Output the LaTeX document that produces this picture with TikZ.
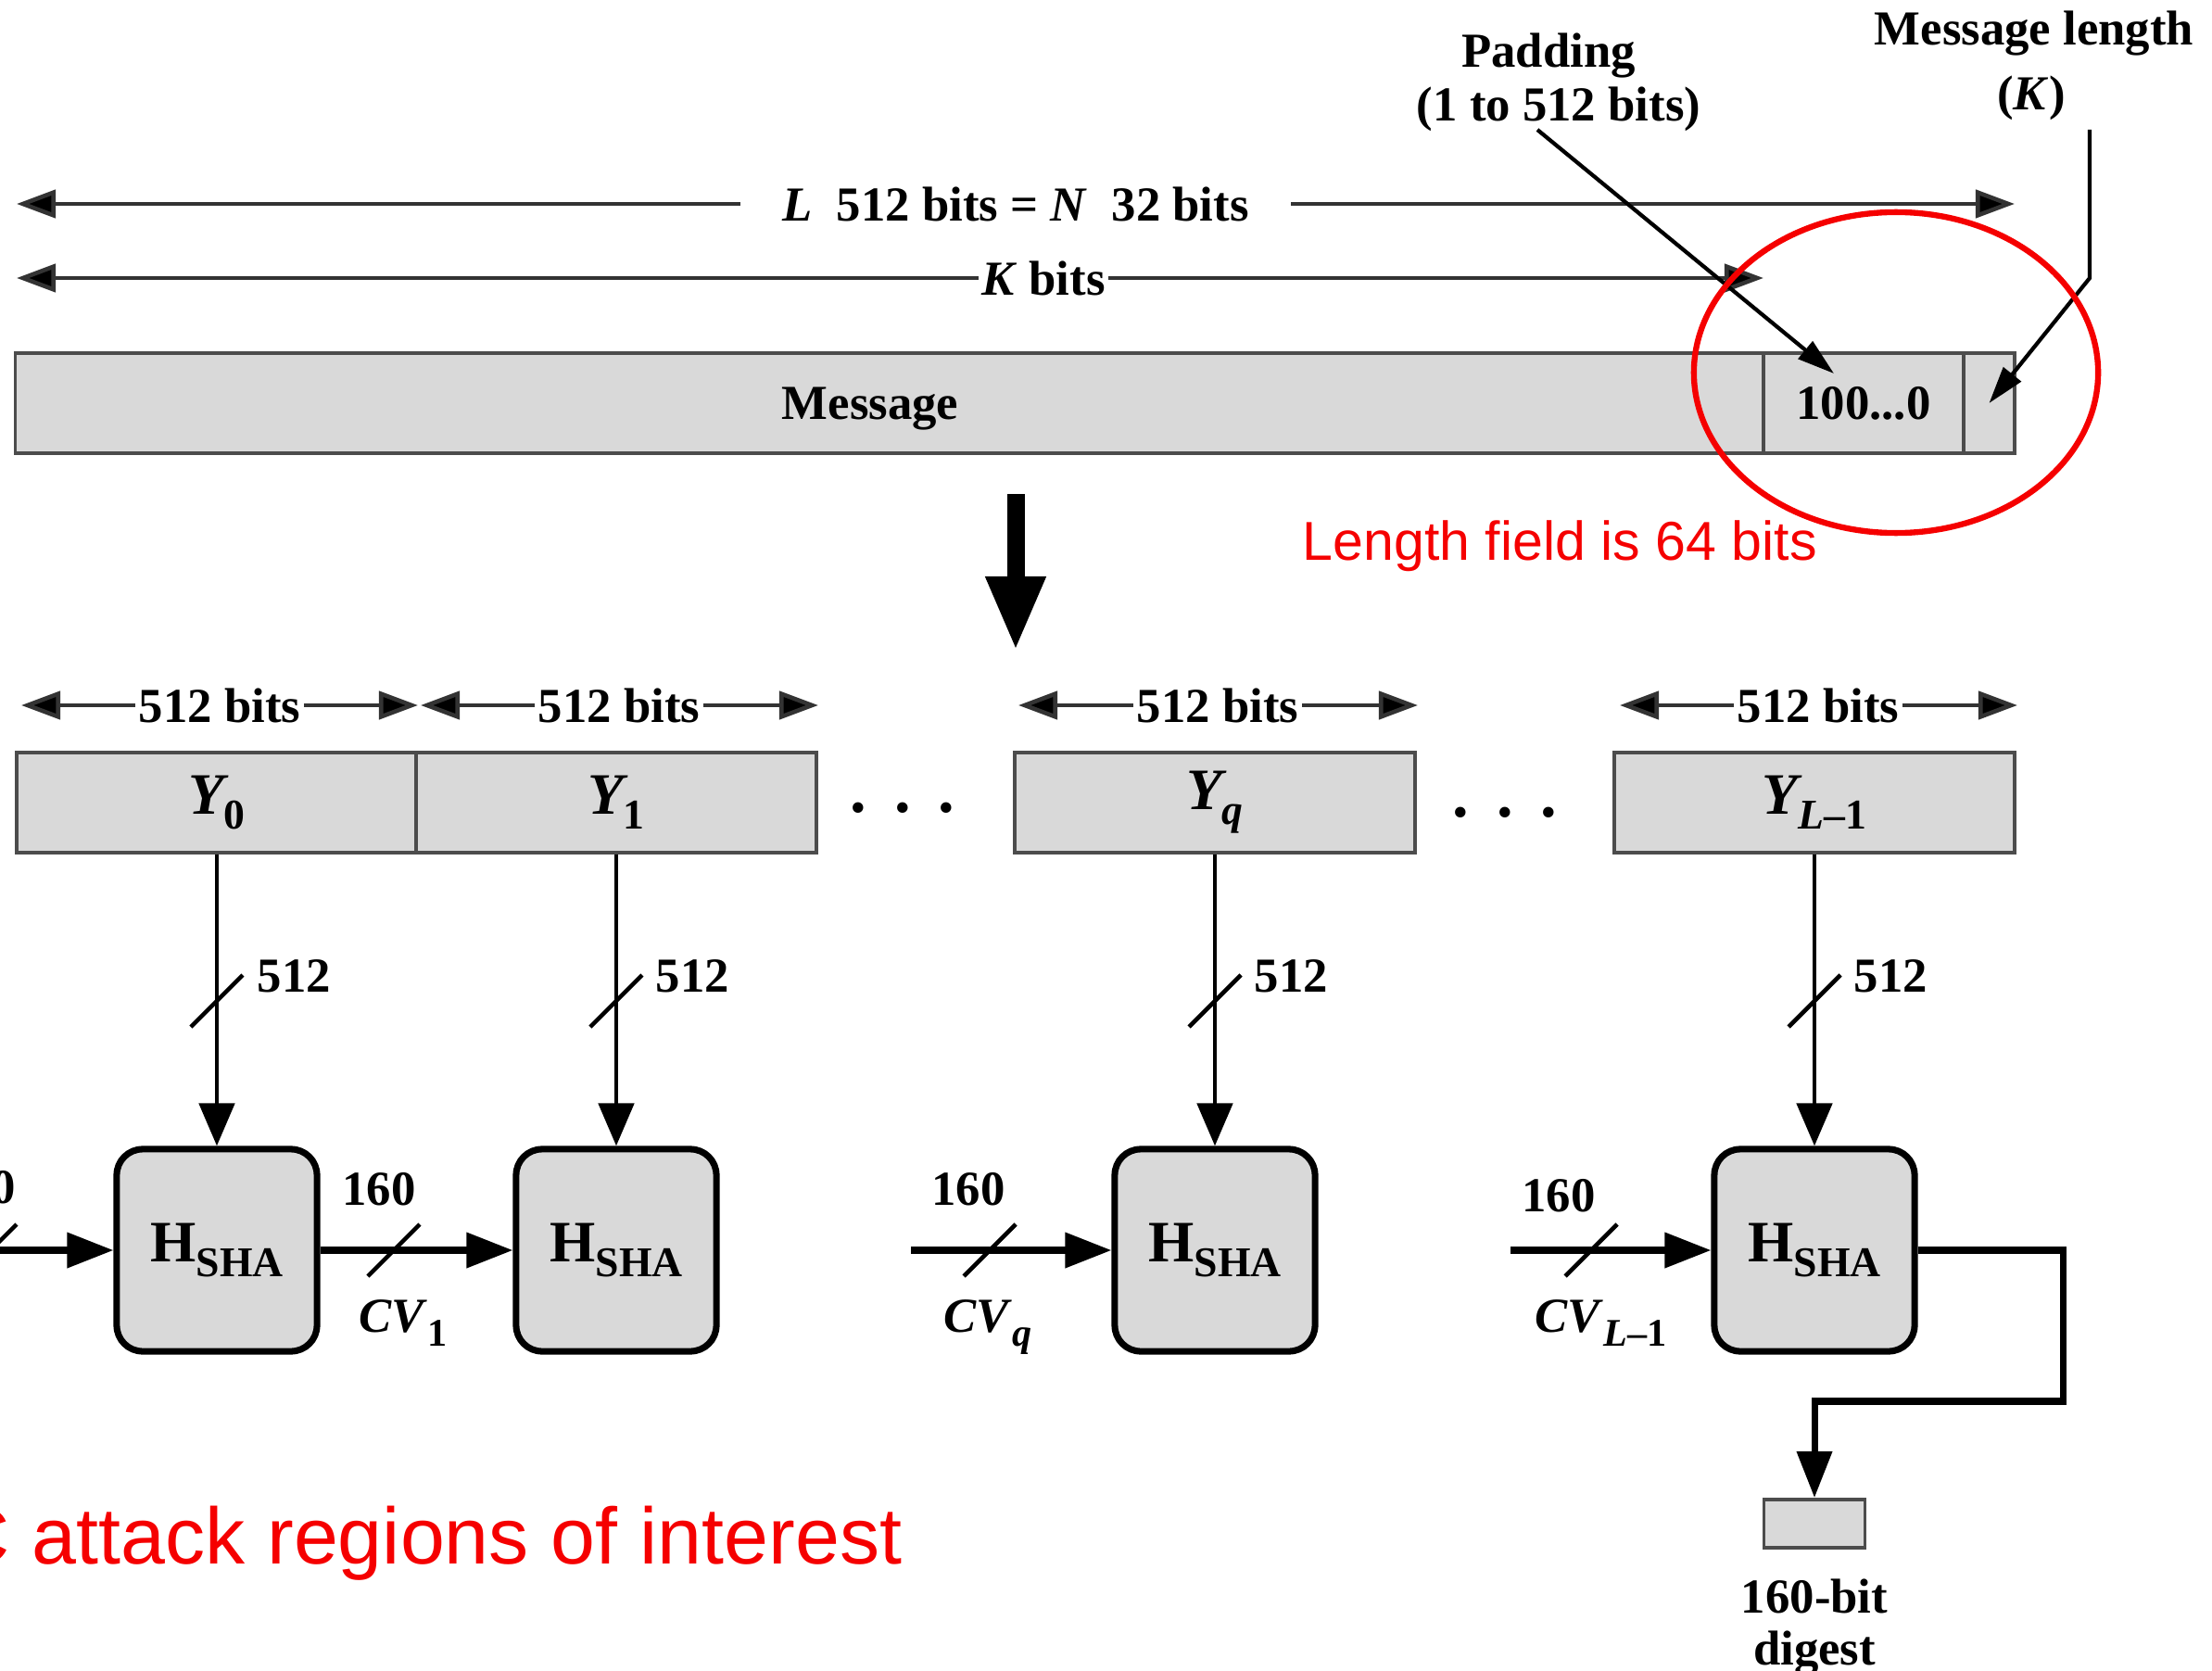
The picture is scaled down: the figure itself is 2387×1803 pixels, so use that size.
\documentclass[tikz,border=0pt]{standalone}
\usepackage{fontspec}
\setmainfont{Liberation Serif}
\newfontfamily\notefont{Liberation Sans}
\usetikzlibrary{arrows.meta}
\usetikzlibrary{positioning}

\definecolor{cellgray}{RGB}{217,217,217}
\definecolor{notered}{RGB}{245,0,0}

\newcommand{\blocklab}[2]{{\fontsize{18}{18}\selectfont\itshape #1}\raisebox{-4.5pt}{\fontsize{13}{13}\selectfont #2}}
\newcommand{\cvlab}[1]{\textit{CV}\raisebox{-4.5pt}{\fontsize{12}{12}\selectfont #1}}
\newcommand{\hsha}{{\fontsize{18}{18}\selectfont H}\raisebox{-4.5pt}{\fontsize{13}{13}\selectfont SHA}}

\tikzset{
  lbl/.style={font=\fontsize{15}{16}\selectfont\bfseries, inner sep=0pt},
  cell/.style={draw=black!70, line width=1.1pt, fill=cellgray, minimum height=1.08cm,
    inner sep=0pt, font=\fontsize{15}{16}\selectfont\bfseries},
  hbox/.style={draw, line width=2pt, fill=cellgray, rounded corners=0.28cm,
    minimum width=2.16cm, minimum height=2.18cm, inner sep=0pt, font=\bfseries},
  spanline/.style={draw=black!80, line width=1.3pt, >={Triangle[length=0.42cm,width=0.3cm,fill=black]}},
  callout/.style={draw=black, line width=1.2pt, ->, >={Triangle[length=0.4cm,width=0.24cm]}},
  feed/.style={line width=1.4pt, ->, >={Triangle[length=0.46cm,width=0.38cm]}},
  chain/.style={line width=2pt, ->, >={Triangle[length=0.5cm,width=0.37cm]}},
  note/.style={text=notered, inner sep=0pt},
  busmark/.pic={\draw[-, line width=1.3pt] (-28,28) -- (28,-28);}
}

\begin{document}
\begin{tikzpicture}[x=0.01cm,y=-0.01cm]
  \useasboundingbox (0,0) rectangle (2387,1803);

  \node[cell, minimum width=18.86cm] (msg) at (960,435) {};
  \node[lbl] (msglab) at (939,441) {Message};
  \node[cell, minimum width=2.16cm] (pad) at (2011,435) {100...0};
  \node[cell, minimum width=0.55cm] (len) at (2146.5,435) {};

  \node[lbl, anchor=base] (padA) at (1671,73) {Padding};
  \node[lbl, anchor=base] (padB) at (1682,131) {(1 to 512 bits)};
  \node[lbl, anchor=base] (mlA) at (2195,49) {Message length};
  \node[lbl, anchor=base] (mlB) at (2192,119) {(\textit{K})};

  \coordinate (Lleft) at (18,220);
  \coordinate (Lright) at (2174,220);
  \node[lbl, inner xsep=0.45cm] (Llab) at (1096,220) {\textit{L}\enspace 512 bits = \textit{N}\enspace 32 bits};
  \draw[spanline, <-] (Lleft) -- (Llab.west);
  \draw[spanline, ->] (Llab.east) -- (Lright);

  \coordinate (Kleft) at (18,300);
  \coordinate (Kright) at (1903,300);
  \draw[spanline, <->] (Kleft) -- (Kright);
  \node[lbl, fill=white, inner xsep=1pt] (Klab) at (1126,300) {\textit{K} bits};

  \coordinate (padtail) at (1659,140);
  \coordinate (padhead) at (1979,403);
  \draw[callout] (padtail) -- (padhead);
  \coordinate (lentail) at (2255,140);
  \coordinate (lenbend) at (2255,300);
  \draw[callout] (lentail) -- (lenbend) -- (len.center);

  \draw[notered, line width=1.8pt] (2046,402) ellipse [x radius=2.18cm, y radius=1.73cm];
  \node[note, font=\notefont\fontsize{16.8}{18}\selectfont, anchor=base west] (lennote) at (1405,604) {Length field is 64 bits};

  \coordinate (downtop) at (1096,533);
  \coordinate (downtip) at (1096,702);
  \draw[line width=5.4pt, -{Triangle[length=0.8cm,width=0.6cm]}] (downtop) -- (downtip);

  \coordinate (s0a) at (23,761);   \coordinate (s0b) at (451,761);
  \coordinate (s1a) at (454,761);  \coordinate (s1b) at (883,761);
  \coordinate (sqa) at (1099,761); \coordinate (sqb) at (1530,761);
  \coordinate (sla) at (1748,761); \coordinate (slb) at (2177,761);
  \draw[spanline, <->] (s0a) -- (s0b);
  \draw[spanline, <->] (s1a) -- (s1b);
  \draw[spanline, <->] (sqa) -- (sqb);
  \draw[spanline, <->] (sla) -- (slb);
  \node[lbl, fill=white, inner xsep=1pt] (s0lab) at (237,761) {512 bits};
  \node[lbl, fill=white, inner xsep=1pt] (s1lab) at (668,761) {512 bits};
  \node[lbl, fill=white, inner xsep=1pt] (sqlab) at (1314,761) {512 bits};
  \node[lbl, fill=white, inner xsep=1pt] (sllab) at (1962,761) {512 bits};

  \node[cell, minimum width=4.32cm] (y0) at (234,866) {\blocklab{Y}{0}};
  \node[cell, minimum width=4.32cm] (y1) at (665,866) {\blocklab{Y}{1}};
  \node[cell, minimum width=4.32cm] (yq) at (1311,866) {\blocklab{Y}{\textit{q}}};
  \node[cell, minimum width=4.32cm] (yl) at (1958,866) {\blocklab{Y}{\textit{L}--1}};
  \node[lbl, anchor=base, font=\fontsize{20}{20}\selectfont\bfseries] (dotsA) at (974,876) {.\hspace{8.5pt}.\hspace{8.5pt}.};
  \node[lbl, anchor=base, font=\fontsize{20}{20}\selectfont\bfseries] (dotsB) at (1624,881) {.\hspace{8.5pt}.\hspace{8.5pt}.};

  \node[hbox] (h0) at (234,1349) {\hsha};
  \node[hbox] (h1) at (665,1349) {\hsha};
  \node[hbox] (hq) at (1311,1349) {\hsha};
  \node[hbox] (hl) at (1958,1349) {\hsha};

  \draw[feed] (y0.south) -- (h0.north);
  \draw[feed] (y1.south) -- (h1.north);
  \draw[feed] (yq.south) -- (hq.north);
  \draw[feed] (yl.south) -- (hl.north);
  \pic at (234,1080) {busmark};
  \pic at (665,1080) {busmark};
  \pic at (1311,1080) {busmark};
  \pic at (1958,1080) {busmark};
  \node[lbl, anchor=base west] (w0) at (277,1070) {512};
  \node[lbl, anchor=base west] (w1) at (707,1070) {512};
  \node[lbl, anchor=base west] (wq) at (1353,1070) {512};
  \node[lbl, anchor=base west] (wl) at (2000,1070) {512};

  \coordinate (cv0) at (-60,1349);
  \coordinate (cvq) at (983,1349);
  \coordinate (cvl) at (1630,1349);
  \draw[chain] (cv0) -- (h0.west);
  \draw[chain] (h0.east) -- (h1.west);
  \draw[chain] (cvq) -- (hq.west);
  \draw[chain] (cvl) -- (hl.west);
  \pic at (-10,1349) {busmark};
  \pic at (425,1349) {busmark};
  \pic at (1068,1349) {busmark};
  \pic at (1717,1349) {busmark};
  \node[lbl, anchor=base] (n0) at (-23,1298) {160};
  \node[lbl, anchor=base] (n1) at (409,1300) {160};
  \node[lbl, anchor=base] (nq) at (1045,1300) {160};
  \node[lbl, anchor=base] (nl) at (1682,1307) {160};
  \node[lbl, anchor=base west] (c1) at (387,1437) {\cvlab{1}};
  \node[lbl, anchor=base west] (cq) at (1018,1437) {\cvlab{\textit{q}}};
  \node[lbl, anchor=base west] (cl) at (1656,1437) {\cvlab{\textit{L}--1}};

  \node[cell, minimum width=1.09cm, minimum height=0.52cm] (dig) at (1958,1644) {};
  \node[lbl, align=center, below=0.31cm of dig] (diglab) {160-bit\\digest};
  \coordinate (outA) at (2226,1349);
  \coordinate (outB) at (1958,1512);
  \draw[chain] (hl.east) -- (outA) |- (outB) -- (dig.north);

  \node[note, font=\notefont\fontsize{24.5}{26}\selectfont, anchor=base east] (attack) at (974,1687) {C attack regions of interest};
\end{tikzpicture}
\end{document}
